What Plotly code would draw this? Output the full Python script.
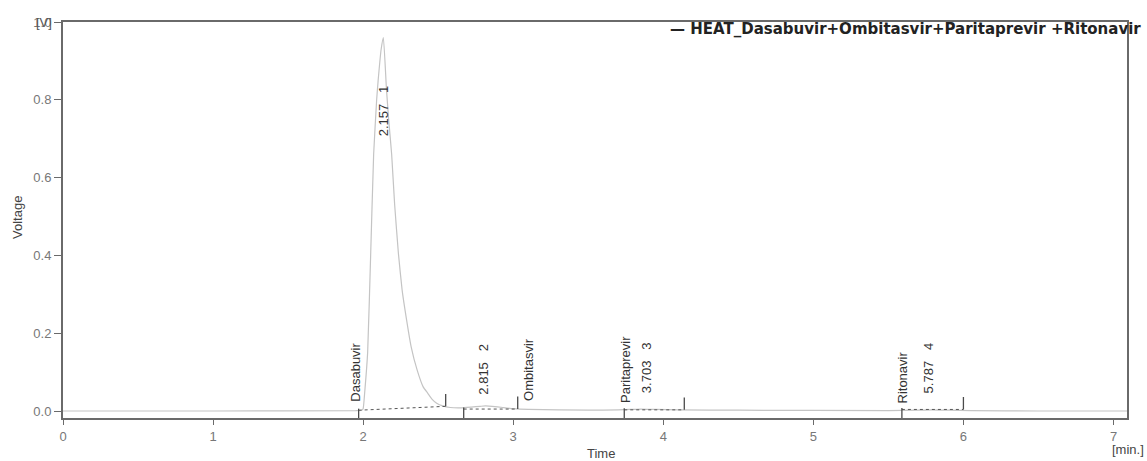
import plotly.graph_objects as go

# ---------------- data ----------------
time_min = [0.0, 1.0, 1.95, 1.99, 2.00, 2.01, 2.03, 2.05, 2.07, 2.09, 2.10, 2.12, 2.135,
            2.155, 2.17, 2.19, 2.21, 2.235, 2.26, 2.29, 2.32, 2.36, 2.40, 2.43, 2.46,
            2.49, 2.53, 2.58, 2.65, 2.72, 2.78, 2.815, 2.86, 2.93, 3.00, 3.10, 3.50,
            3.70, 3.78, 3.85, 3.95, 4.10, 4.50, 5.50, 5.70, 5.787, 5.90, 6.05, 6.50, 7.09]
voltage = [0.0, 0.0, 0.001, 0.002, 0.006, 0.046, 0.15, 0.40, 0.66, 0.80, 0.85, 0.93, 0.96,
           0.83, 0.75, 0.66, 0.53, 0.405, 0.31, 0.233, 0.165, 0.105, 0.062, 0.046, 0.030,
           0.020, 0.013, 0.009, 0.008, 0.010, 0.012, 0.013, 0.012, 0.009, 0.006, 0.004, 0.002,
           0.003, 0.004, 0.005, 0.004, 0.003, 0.002, 0.001, 0.002, 0.003, 0.002, 0.001, 0.0, 0.0]

peak_numbers = [1, 2, 3, 4]
peak_rt = [2.157, 2.815, 3.703, 5.787]
peak_names = ["Dasabuvir", "Ombitasvir", "Paritaprevir", "Ritonavir"]
int_start = [1.97, 2.67, 3.74, 5.59]
int_end = [2.55, 3.03, 4.14, 6.00]
base_start = [0.002, 0.005, 0.003, 0.004]
base_end = [0.012, 0.005, 0.003, 0.004]

x_ticks = [0, 1, 2, 3, 4, 5, 6, 7]
y_ticks = [0.0, 0.2, 0.4, 0.6, 0.8, 1.0]
series_name = "HEAT_Dasabuvir+Ombitasvir+Paritaprevir +Ritonavir"

# ---------------- layout constants ----------------
X_RANGE = [0, 7.09]
Y_RANGE = [-0.018, 1.0]
FONT = "Liberation Sans, Arial, sans-serif"
LEG_FONT = "DejaVu Sans, Verdana, sans-serif"
AX = "#6a6a6a"
# label placements (x in minutes, bottom y in volts)
name_label_pos = [(1.947, 0.018), (3.10, 0.020), (3.747, 0.015), (5.593, 0.015)]
rt_label_pos = [(2.133, 0.70), (2.80, 0.036), (3.893, 0.040), (5.767, 0.040)]

fig = go.Figure()

# chromatogram signal
fig.add_trace(go.Scatter(x=time_min, y=voltage, mode="lines",
                         line=dict(color="#c4c4c4", width=1.2, shape="spline", smoothing=0.4),
                         hoverinfo="skip", showlegend=False))

# integration baselines (dotted)
bx, by = [], []
for s, e, v0, v1 in zip(int_start, int_end, base_start, base_end):
    bx += [s, e, None]
    by += [v0, v1, None]
fig.add_trace(go.Scatter(x=bx, y=by, mode="lines",
                         line=dict(color="#555555", width=1, dash="dot"),
                         hoverinfo="skip", showlegend=False))

# integration ticks: start ticks down to axis, end ticks upward
tx, ty = [], []
for s, e, v0, v1 in zip(int_start, int_end, base_start, base_end):
    tx += [s, s, None, e, e, None]
    ty += [v0 + 0.004, Y_RANGE[0], None, v1, v1 + 0.032, None]
fig.add_trace(go.Scatter(x=tx, y=ty, mode="lines",
                         line=dict(color="#4a4a4a", width=1.3),
                         hoverinfo="skip", showlegend=False))

annotations = []
for name, (lx, ly) in zip(peak_names, name_label_pos):
    annotations.append(dict(x=lx, y=ly, xref="x", yref="y", text=name, textangle=-90,
                            showarrow=False, xanchor="center", yanchor="bottom",
                            font=dict(family=FONT, size=13, color="#333333")))
for rt, num, (lx, ly) in zip(peak_rt, peak_numbers, rt_label_pos):
    annotations.append(dict(x=lx, y=ly, xref="x", yref="y",
                            text=f"{rt:.3f}&nbsp;&nbsp;&nbsp;{num}", textangle=-90,
                            showarrow=False, xanchor="center", yanchor="bottom",
                            font=dict(family=FONT, size=13, color="#333333")))

# axis titles and units
annotations += [
    dict(x=17, y=218, xref="paper", yref="paper", text="Voltage", textangle=-90,
         showarrow=False, xanchor="center", yanchor="middle",
         font=dict(family=FONT, size=13, color="#444444")),
    dict(x=601, y=453, xref="paper", yref="paper", text="Time",
         showarrow=False, xanchor="center", yanchor="middle",
         font=dict(family=FONT, size=13, color="#444444")),
    dict(x=1146, y=449, xref="paper", yref="paper", text="[min.]",
         showarrow=False, xanchor="right", yanchor="middle",
         font=dict(family=FONT, size=13, color="#444444")),
    dict(x=54, y=22, xref="paper", yref="paper", text="[V]",
         showarrow=False, xanchor="right", yanchor="middle",
         font=dict(family=FONT, size=13, color="#555555")),
    dict(x=1143, y=29, xref="paper", yref="paper",
         text="<b>\u2014&nbsp;" + series_name + "</b>",
         showarrow=False, xanchor="right", yanchor="middle",
         font=dict(family=LEG_FONT, size=15, color="#222222")),
]

# convert pixel placements above (paper-level ones) into paper coordinates
L, R, T, B, W, H = 63, 20, 22, 43, 1147, 461
pw, ph = W - L - R, H - T - B
for a in annotations:
    if a["xref"] == "paper":
        a["x"] = (a["x"] - L) / pw
        a["y"] = (H - B - a["y"]) / ph

fig.update_layout(
    width=W, height=H,
    margin=dict(l=L, r=R, t=T, b=B, autoexpand=False),
    paper_bgcolor="white", plot_bgcolor="white",
    showlegend=False,
    annotations=annotations,
    font=dict(family=FONT, size=13, color="#666666"),
)
fig.update_xaxes(range=X_RANGE, tickvals=x_ticks, ticktext=[str(v) for v in x_ticks],
                 automargin=False,
                 showgrid=False, zeroline=False, showline=True, linecolor=AX, linewidth=2,
                 mirror=True, ticks="outside", ticklen=5, tickcolor=AX, tickwidth=1,
                 tickfont=dict(family=FONT, size=13, color="#777777"))
fig.update_yaxes(range=Y_RANGE, tickvals=y_ticks, ticktext=[f"{v:.1f}" for v in y_ticks],
                 automargin=False,
                 showgrid=False, zeroline=False, showline=True, linecolor=AX, linewidth=2,
                 mirror=True, ticks="outside", ticklen=7, tickcolor=AX, tickwidth=1,
                 tickfont=dict(family=FONT, size=13, color="#777777"))

fig.write_html("out.html", config={"displayModeBar": False},
               post_script="document.body.style.margin='0';document.body.style.overflow='hidden';")
